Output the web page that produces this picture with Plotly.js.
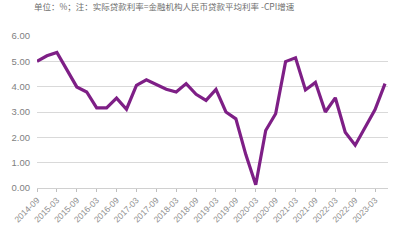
<!DOCTYPE html>
<html>
<head>
<meta charset="utf-8">
<script src="https://cdn.plot.ly/plotly-3.0.1.min.js"></script>
<style>html,body{margin:0;padding:0;background:#fff;}#chart{width:398px;height:240px;}</style>
</head>
<body>
<div id="chart"></div>
<script>
var periods = ['2014-09','2014-12','2015-03','2015-06','2015-09','2015-12','2016-03','2016-06','2016-09','2016-12',
  '2017-03','2017-06','2017-09','2017-12','2018-03','2018-06','2018-09','2018-12','2019-03','2019-06',
  '2019-09','2019-12','2020-03','2020-06','2020-09','2020-12','2021-03','2021-06','2021-09','2021-12',
  '2022-03','2022-06','2022-09','2022-12','2023-03','2023-06'];
var realRate = [5.0,5.22,5.35,4.65,3.99,3.79,3.16,3.16,3.55,3.11,
  4.05,4.27,4.08,3.9,3.79,4.12,3.7,3.46,3.89,3.0,
  2.73,1.32,0.13,2.27,2.93,4.99,5.14,3.87,4.17,3.0,
  3.56,2.2,1.69,2.37,3.1,4.12];
var tickLabels = ['2014-09','2015-03','2015-09','2016-03','2016-09','2017-03','2017-09','2018-03','2018-09',
  '2019-03','2019-09','2020-03','2020-09','2021-03','2021-09','2022-03','2022-09','2023-03'];
var yTicks = [0,1,2,3,4,5,6];
var titleText = '单位：%；注：实际贷款利率=金融机构人民币贷款平均利率 -CPI增速';

var trace = {
  x: periods, y: realRate, type: 'scatter', mode: 'lines',
  line: {color: '#7e1f86', width: 3.2}, hoverinfo: 'skip'
};
var layout = {
  width: 398, height: 240,
  margin: {l: 37, r: 10, t: 36, b: 52},
  paper_bgcolor: '#fff', plot_bgcolor: '#fff',
  showlegend: false,
  font: {family: '"Noto Sans CJK SC", "Liberation Sans", Arial, sans-serif', color: '#7f7f7f', size: 9},
  annotations: [{
    text: titleText, xref: 'paper', yref: 'paper', x: -0.015, y: 1.0, yshift: 30,
    xanchor: 'left', yanchor: 'middle', showarrow: false,
    font: {size: 8.5, color: '#6e6e6e', family: '"Noto Sans CJK SC", sans-serif'}
  }],
  xaxis: {
    type: 'category', categoryorder: 'array', categoryarray: periods,
    range: [0, 35.3], tickmode: 'array', tickvals: tickLabels, ticktext: tickLabels,
    tickangle: -45, ticks: 'outside', ticklen: 3, tickcolor: '#bfbfbf', tickwidth: 1,
    showgrid: false, showline: true, linecolor: '#d0d0d0', linewidth: 1, zeroline: false,
    tickfont: {size: 8.5, color: '#8c8c8c', family: '"Liberation Sans", Arial, sans-serif'},
    fixedrange: true
  },
  yaxis: {
    range: [0, 6], tickmode: 'array', tickvals: yTicks,
    ticktext: yTicks.map(function(v){return v.toFixed(2);}),
    showgrid: true, gridcolor: '#d9d9d9', gridwidth: 1, zeroline: false, showline: false,
    ticks: '', ticklabelstandoff: 6,
    tickfont: {size: 9.5, color: '#7f7f7f', family: '"Liberation Sans", Arial, sans-serif'},
    fixedrange: true
  }
};
Plotly.newPlot('chart', [trace], layout, {displayModeBar: false, staticPlot: true});
</script>
</body>
</html>
